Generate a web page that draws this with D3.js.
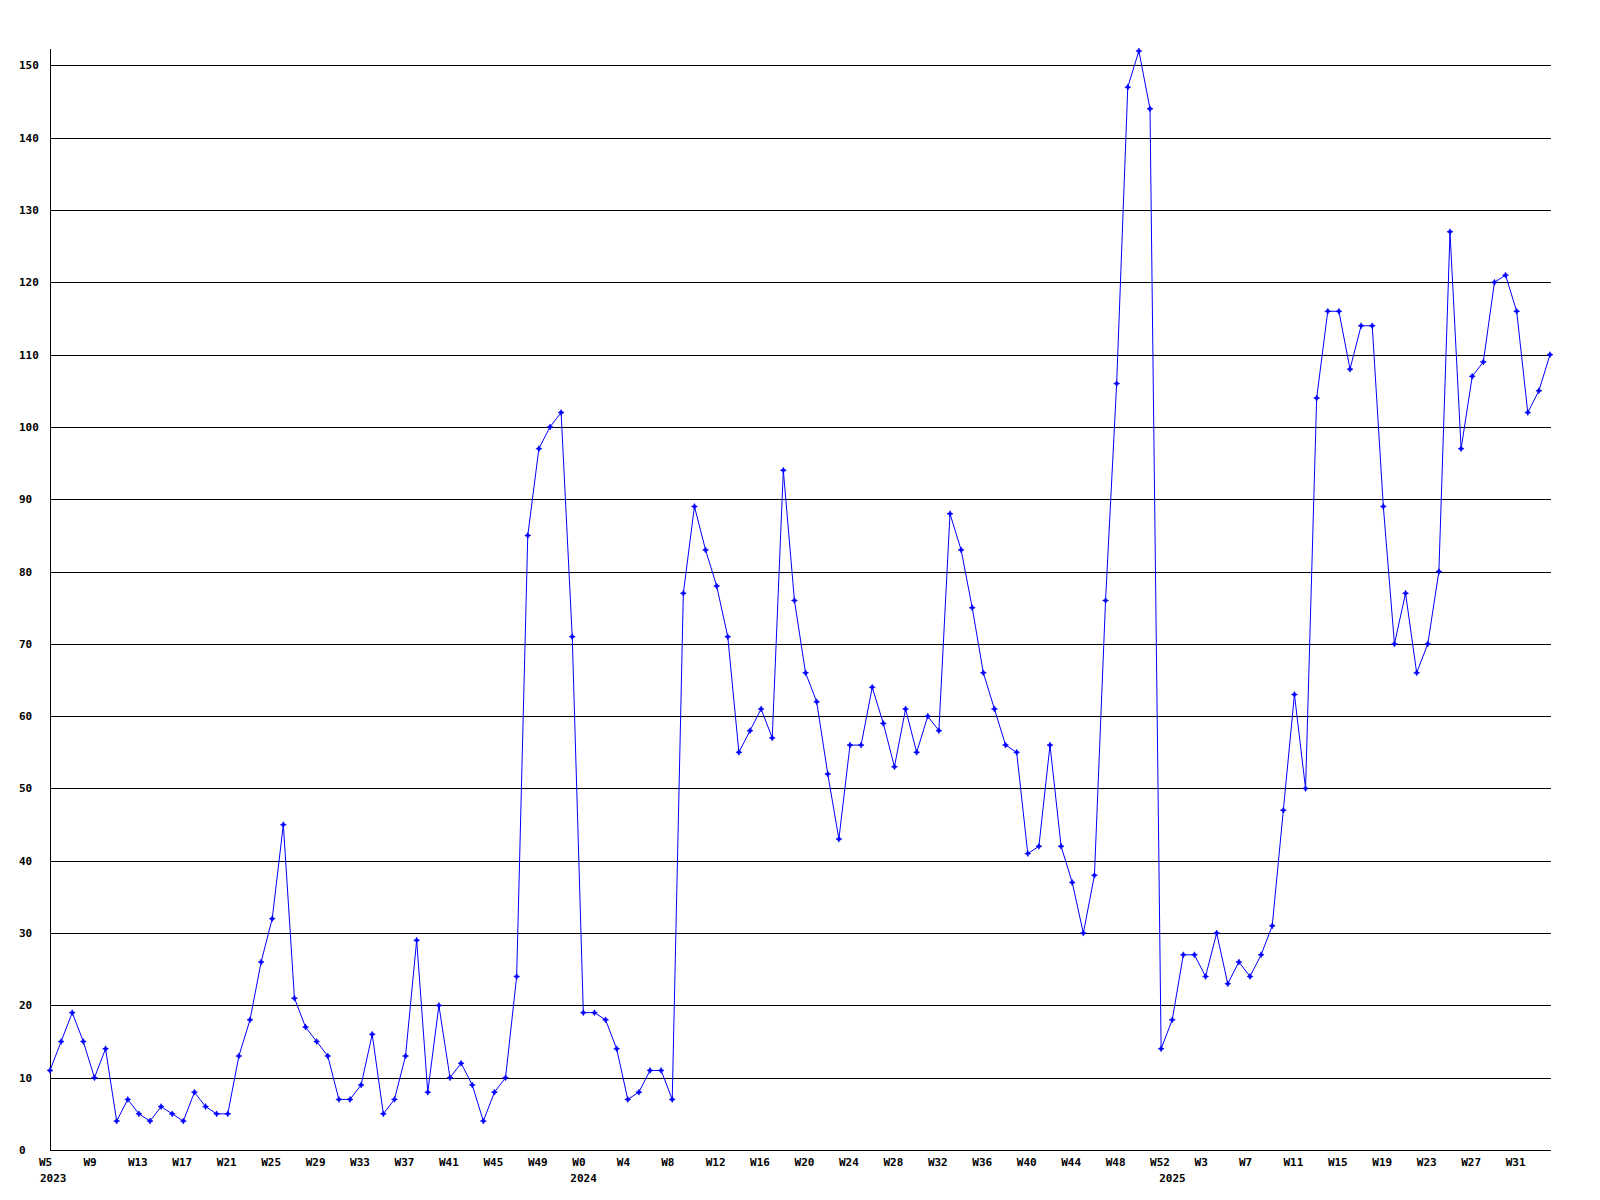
<!DOCTYPE html>
<html>
<head>
<meta charset="utf-8">
<script src="https://cdn.jsdelivr.net/npm/d3@7"></script>
<style>
  html, body { margin: 0; padding: 0; background: #ffffff; }
  svg { display: block; }
  text { font-family: "DejaVu Sans Mono", "Liberation Mono", monospace; font-weight: bold; font-size: 11px; fill: #000; }
</style>
</head>
<body>
<svg id="chart" width="1600" height="1200"></svg>
<script>
// Category weeks per year
const weeks2023 = d3.range(5, 53);   // W5..W52
const weeks2024 = d3.range(0, 53);   // W0..W52
const weeks2025 = d3.range(0, 35);   // W0..W34

// Weekly values
const values2023 = [11,15,19,15,10,14,4,7,5,4,6,5,4,8,6,5,5,13,18,26,32,45,21,17,15,13,7,7,9,16,5,7,13,29,8,20,10,12,9,4,8,10,24,85,97,100,102,71];
const values2024 = [19,19,18,14,7,8,11,11,7,77,89,83,78,71,55,58,61,57,94,76,66,62,52,43,56,56,64,59,53,61,55,60,58,88,83,75,66,61,56,55,41,42,56,42,37,30,38,76,106,147,152,144,14];
const values2025 = [18,27,27,24,30,23,26,24,27,31,47,63,50,104,116,116,108,114,114,89,70,77,66,70,80,127,97,107,109,120,121,116,102,105,110];

const yTicks = [0,10,20,30,40,50,60,70,80,90,100,110,120,130,140,150];
const years = [2023, 2024, 2025];

(function () {
  const data = [];
  [[2023, weeks2023, values2023], [2024, weeks2024, values2024], [2025, weeks2025, values2025]].forEach(([yr, wks, vals]) => {
    wks.forEach((w, k) => data.push({ year: yr, week: w, value: vals[k] }));
  });
  data.forEach((d, i) => { d.i = i; });

  const svg = d3.select("#chart");
  const mLeft = 50, mRight = 1550, mBottom = 1150, mTop = 51;

  const x = d3.scaleLinear().domain([0, data.length - 1]).range([mLeft, mRight]);
  const y = d3.scaleLinear().domain([0, d3.max(data, d => d.value)]).range([mBottom, mTop]);

  // Gridlines
  svg.append("g").selectAll("line").data(yTicks.filter(t => t > 0)).join("line")
    .attr("x1", mLeft).attr("x2", mRight + 1)
    .attr("y1", d => Math.round(y(d)) + 0.5).attr("y2", d => Math.round(y(d)) + 0.5)
    .attr("stroke", "#000").attr("stroke-width", 1);

  // Y labels
  svg.append("g").selectAll("text").data(yTicks).join("text")
    .attr("x", 19).attr("y", d => Math.round(y(d)) + 4)
    .attr("text-anchor", "start")
    .text(d => d);

  // Axis lines
  svg.append("line").attr("x1", mLeft + 0.5).attr("x2", mLeft + 0.5)
    .attr("y1", mBottom).attr("y2", mTop - 2).attr("stroke", "#000");
  svg.append("line").attr("x1", mLeft).attr("x2", mRight + 1)
    .attr("y1", mBottom + 0.5).attr("y2", mBottom + 0.5).attr("stroke", "#000");

  // X tick labels every 4 points
  const tickData = data.filter(d => d.i % 4 === 0);
  const xl = svg.append("g");
  tickData.forEach(d => {
    xl.append("text").attr("x", x(d.i) - 11).attr("y", 1166).text("W" + d.week);
  });
  // Year captions centred on first point of each year
  years.forEach(yr => {
    const first = data.find(d => d.year === yr);
    xl.append("text").attr("x", Math.max(40, x(first.i) - 13)).attr("y", 1182).text(yr);
  });

  // Line
  const line = d3.line().x(d => x(d.i)).y(d => y(d.value));
  svg.append("path").datum(data)
    .attr("d", line)
    .attr("fill", "none")
    .attr("stroke", "#0000ff")
    .attr("stroke-width", 1);

  // Markers
  svg.append("g").selectAll("path").data(data).join("path")
    .attr("transform", d => `translate(${x(d.i)},${y(d.value)})`)
    .attr("d", "M0,-3L1,-1L3,0L1,1L0,3L-1,1L-3,0L-1,-1Z")
    .attr("fill", "#0000ff")
    .attr("stroke", "#0000ff")
    .attr("stroke-width", 0.6);
})();
</script>
</body>
</html>
